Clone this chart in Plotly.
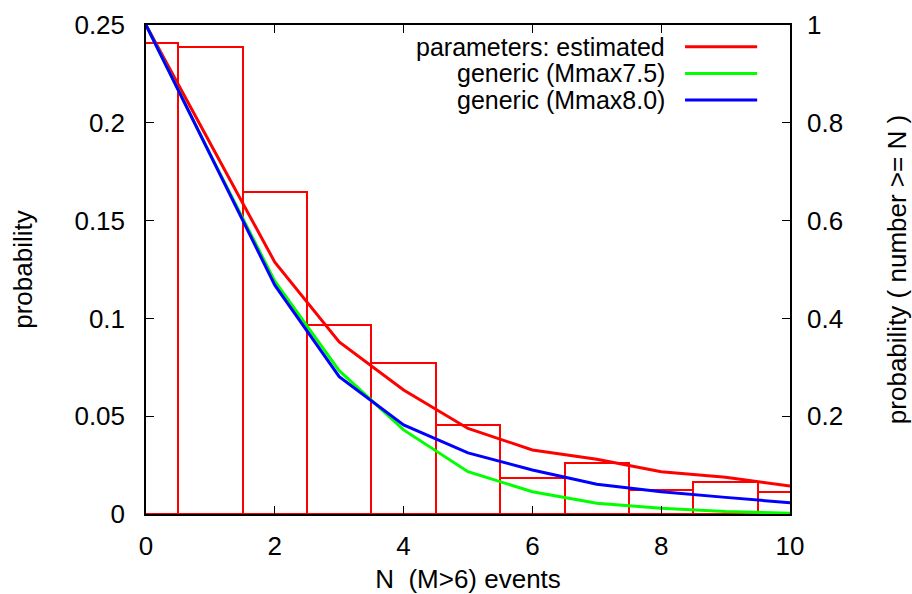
import plotly.graph_objects as go

# Histogram of number of events (left axis, probability)
n_events = [0, 1, 2, 3, 4, 5, 6, 7, 8, 9, 10]
hist_prob = [0.241, 0.239, 0.1646, 0.0966, 0.0773, 0.0454, 0.0184, 0.0262, 0.0123, 0.0164, 0.0114]

# Exceedance curves (right axis, probability number >= N)
n_curve = [0, 1, 2, 3, 4, 5, 6, 7, 8, 9, 10]
p_estimated = [1.0, 0.759, 0.515, 0.352, 0.2536, 0.175, 0.131, 0.112, 0.0865, 0.075, 0.057]
p_mmax75 = [1.0, 0.735, 0.476, 0.293, 0.172, 0.0865, 0.0456, 0.022, 0.0117, 0.005, 0.0015]
p_mmax80 = [1.0, 0.733, 0.468, 0.281, 0.182, 0.125, 0.09, 0.0607, 0.0456, 0.034, 0.023]

legend_names = ["parameters: estimated", "generic (Mmax7.5)", "generic (Mmax8.0)"]
colors = ["#ff0000", "#00ff00", "#0000ff"]

FONT = "Liberation Sans, Arial, sans-serif"
FS = 26
LFS = 25

fig = go.Figure()
fig.add_trace(go.Bar(
    x=n_events, y=hist_prob, width=1.0,
    marker=dict(color="rgba(0,0,0,0)", line=dict(color="#ff0000", width=2)),
    showlegend=False, yaxis="y"))

for name, ys, c in zip(legend_names, [p_estimated, p_mmax75, p_mmax80], colors):
    fig.add_trace(go.Scatter(x=n_curve, y=ys, mode="lines", name=name,
                             line=dict(color=c, width=3), yaxis="y2", showlegend=False))

# Manual legend (text to the left of the line sample, gnuplot style)
rows_y = [0.9556, 0.901, 0.8466]
for name, c, yy in zip(legend_names, colors, rows_y):
    fig.add_annotation(x=0.809, y=yy, xref="paper", yref="paper", text=name,
                       showarrow=False, xanchor="right", yanchor="middle",
                       font=dict(family=FONT, size=LFS, color="black"))
    fig.add_shape(type="line", xref="paper", yref="paper", x0=0.837, x1=0.949,
                  y0=yy, y1=yy, line=dict(color=c, width=3))

fig.update_layout(
    width=912, height=594,
    margin=dict(l=146, r=122, t=25, b=80),
    paper_bgcolor="white", plot_bgcolor="white",
    font=dict(family=FONT, size=FS, color="black"),
    bargap=0,
    xaxis=dict(range=[0, 10], tickvals=[0, 2, 4, 6, 8, 10], ticks="inside", ticklen=8,
               tickcolor="black", showline=True, linecolor="black", linewidth=1.5,
               mirror="ticks", showgrid=False, zeroline=False, ticklabelstandoff=8,
               automargin=False,
               title=dict(text="N\u00a0\u00a0(M>6) events", font=dict(size=FS), standoff=16)),
    yaxis=dict(range=[0, 0.25], tickvals=[0, 0.05, 0.1, 0.15, 0.2, 0.25],
               ticktext=["0", "0.05", "0.1", "0.15", "0.2", "0.25"],
               ticks="inside", ticklen=8, tickcolor="black", showline=True,
               linecolor="black", linewidth=1.5, mirror="ticks", showgrid=False,
               zeroline=False, ticklabelstandoff=14, automargin=False,
               title=dict(text="probability", font=dict(size=FS), standoff=34)),
    yaxis2=dict(range=[0, 1], overlaying="y", side="right",
                tickvals=[0.2, 0.4, 0.6, 0.8, 1.0], ticktext=["0.2", "0.4", "0.6", "0.8", "1"],
                ticks="", showline=False, showgrid=False, zeroline=False,
                ticklabelstandoff=16, automargin=False,
                title=dict(text="probability\u00a0(\u00a0number\u00a0>=\u00a0N\u00a0)",
                           font=dict(size=FS), standoff=48)),
)

fig.write_html("out.html")
